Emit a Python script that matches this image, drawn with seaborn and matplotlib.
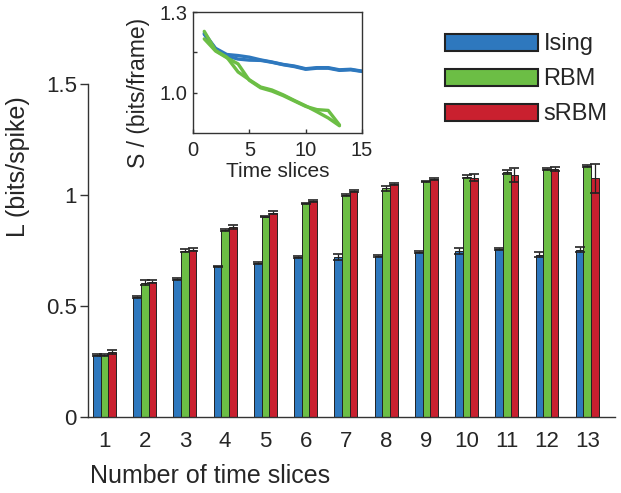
import numpy as np
import pandas as pd
import matplotlib
matplotlib.use("Agg")
import matplotlib.pyplot as plt
import seaborn as sns

# ---------------- data ----------------
slices = [str(i) for i in range(1, 14)]
models = ["Ising", "RBM", "sRBM"]

L_ising = [0.28, 0.54, 0.62, 0.678, 0.693, 0.72, 0.72, 0.726, 0.744, 0.749, 0.757, 0.731, 0.754]
L_rbm   = [0.28, 0.605, 0.75, 0.842, 0.903, 0.962, 1.0, 1.03, 1.062, 1.083, 1.104, 1.117, 1.132]
L_srbm  = [0.292, 0.61, 0.754, 0.855, 0.921, 0.973, 1.018, 1.05, 1.072, 1.077, 1.09, 1.118, 1.075]

E_ising = [0.006, 0.004, 0.004, 0.003, 0.003, 0.004, 0.014, 0.005, 0.004, 0.013, 0.004, 0.011, 0.013]
E_rbm   = [0.004, 0.010, 0.008, 0.004, 0.004, 0.003, 0.004, 0.010, 0.003, 0.006, 0.008, 0.005, 0.004]
E_srbm  = [0.008, 0.006, 0.008, 0.008, 0.006, 0.003, 0.004, 0.004, 0.004, 0.016, 0.031, 0.010, 0.066]

# inset: entropy per frame vs number of time slices
t_ising = list(range(1, 16))
S_ising_a = [1.221, 1.165, 1.142, 1.138, 1.132, 1.122, 1.114, 1.105, 1.099, 1.089, 1.093, 1.093, 1.085, 1.087, 1.080]
S_ising_b = [1.217, 1.162, 1.136, 1.125, 1.121, 1.120, 1.113, 1.104, 1.097, 1.087, 1.091, 1.091, 1.083, 1.085, 1.079]
t_rbm = list(range(1, 14))
S_rbm_a = [1.228, 1.157, 1.132, 1.077, 1.048, 1.021, 1.010, 0.992, 0.971, 0.951, 0.929, 0.906, 0.877]
S_rbm_b = [1.200, 1.155, 1.130, 1.107, 1.046, 1.018, 1.006, 0.989, 0.969, 0.949, 0.937, 0.934, 0.880]

colors = {"Ising": "#2E78BE", "RBM": "#6CBE45", "sRBM": "#C9202F"}

# ---------------- figure ----------------
sns.set_style("white")
plt.rcParams["font.family"] = ["Liberation Sans", "DejaVu Sans"]

fig = plt.figure(figsize=(6.21, 4.93), dpi=100)
ax = fig.add_axes([88 / 621, 1 - 417 / 493, (615 - 88) / 621, (417 - 84) / 493])

df = pd.DataFrame({
    "slices": slices * 3,
    "L": L_ising + L_rbm + L_srbm,
    "err": E_ising + E_rbm + E_srbm,
    "model": [m for m in models for _ in slices],
})

sns.barplot(data=df, x="slices", y="L", hue="model", hue_order=models,
            palette=colors, width=0.57, gap=0, saturation=1,
            edgecolor="#222222", linewidth=0.7, errorbar=None, ax=ax)

# error bars at bar centres
bars = [p for p in ax.patches if p.get_height() > 0][:len(df)]
xs = [b.get_x() + b.get_width() / 2 for b in bars]
hs = [b.get_height() for b in bars]
errs = E_ising + E_rbm + E_srbm
ax.errorbar(xs, hs, yerr=errs, fmt="none", ecolor="#222222",
            elinewidth=0.9, capsize=3.5, capthick=1.2, zorder=5)

ax.set_xlim(-0.41, 12.69)
ax.set_ylim(0, 1.5)
ax.set_yticks([0, 0.5, 1, 1.5])
ax.set_yticklabels(["0", "0.5", "1", "1.5"])
for s in ["top", "right"]:
    ax.spines[s].set_visible(False)
for s in ["left", "bottom"]:
    ax.spines[s].set_color("#333333")
    ax.spines[s].set_linewidth(1.0)
ax.tick_params(axis="y", direction="out", length=6, width=1, color="#333333",
               labelsize=16, pad=2, left=True)
ax.tick_params(axis="x", length=0, labelsize=16, pad=10)
ax.set_xlabel("")
ax.set_ylabel("")

fig.text(18 / 621, 1 - 167 / 493, "L (bits/spike)", rotation=90,
         ha="center", va="center", fontsize=18)
fig.text(90 / 621, 1 - 476 / 493, "Number of time slices",
         ha="left", va="center", fontsize=18)

# legend
leg = ax.legend(loc="upper left", frameon=False, fontsize=17,
                handlelength=3.9, handleheight=0.75, handletextpad=0.25,
                labelspacing=0.55, borderaxespad=0)
for h in leg.legend_handles:
    h.set_edgecolor("#222222")
    h.set_linewidth(1.5)
leg.set_bbox_to_anchor((436 / 621, 1 - 24 / 493), transform=fig.transFigure)

# inset
ax2 = fig.add_axes([193 / 621, 1 - 133 / 493, (362 - 193) / 621, (133 - 12) / 493])
dfi = pd.DataFrame({
    "t": t_ising + t_ising + t_rbm + t_rbm,
    "S": S_ising_a + S_ising_b + S_rbm_a + S_rbm_b,
    "model": ["Ising"] * (2 * len(t_ising)) + ["RBM"] * (2 * len(t_rbm)),
    "run": ["a"] * len(t_ising) + ["b"] * len(t_ising) + ["c"] * len(t_rbm) + ["d"] * len(t_rbm),
})
sns.lineplot(data=dfi, x="t", y="S", hue="model", units="run", estimator=None,
             palette={"Ising": colors["Ising"], "RBM": colors["RBM"]},
             linewidth=2.4, legend=False, ax=ax2, sort=False)
ax2.set_xlim(0, 15)
ax2.set_ylim(0.85, 1.3)
ax2.set_xticks([0, 5, 10, 15])
ax2.set_yticks([1.0, 1.15, 1.3])
ax2.set_yticklabels(["1.0", "", "1.3"])
for s in ax2.spines.values():
    s.set_visible(True)
    s.set_color("#333333")
    s.set_linewidth(1.0)
ax2.tick_params(direction="in", length=3, width=1, color="#333333", labelsize=14.5,
                left=True, bottom=True)
ax2.tick_params(axis="x", pad=6)
ax2.tick_params(axis="y", pad=4)
ax2.set_xlabel("Time slices", fontsize=15, labelpad=1)
ax2.set_ylabel("")
fig.text(138 / 621, 1 - 93 / 493, "S / (bits/frame)", rotation=90,
         ha="center", va="center", fontsize=16.5)

fig.savefig("out.png", dpi=100)
